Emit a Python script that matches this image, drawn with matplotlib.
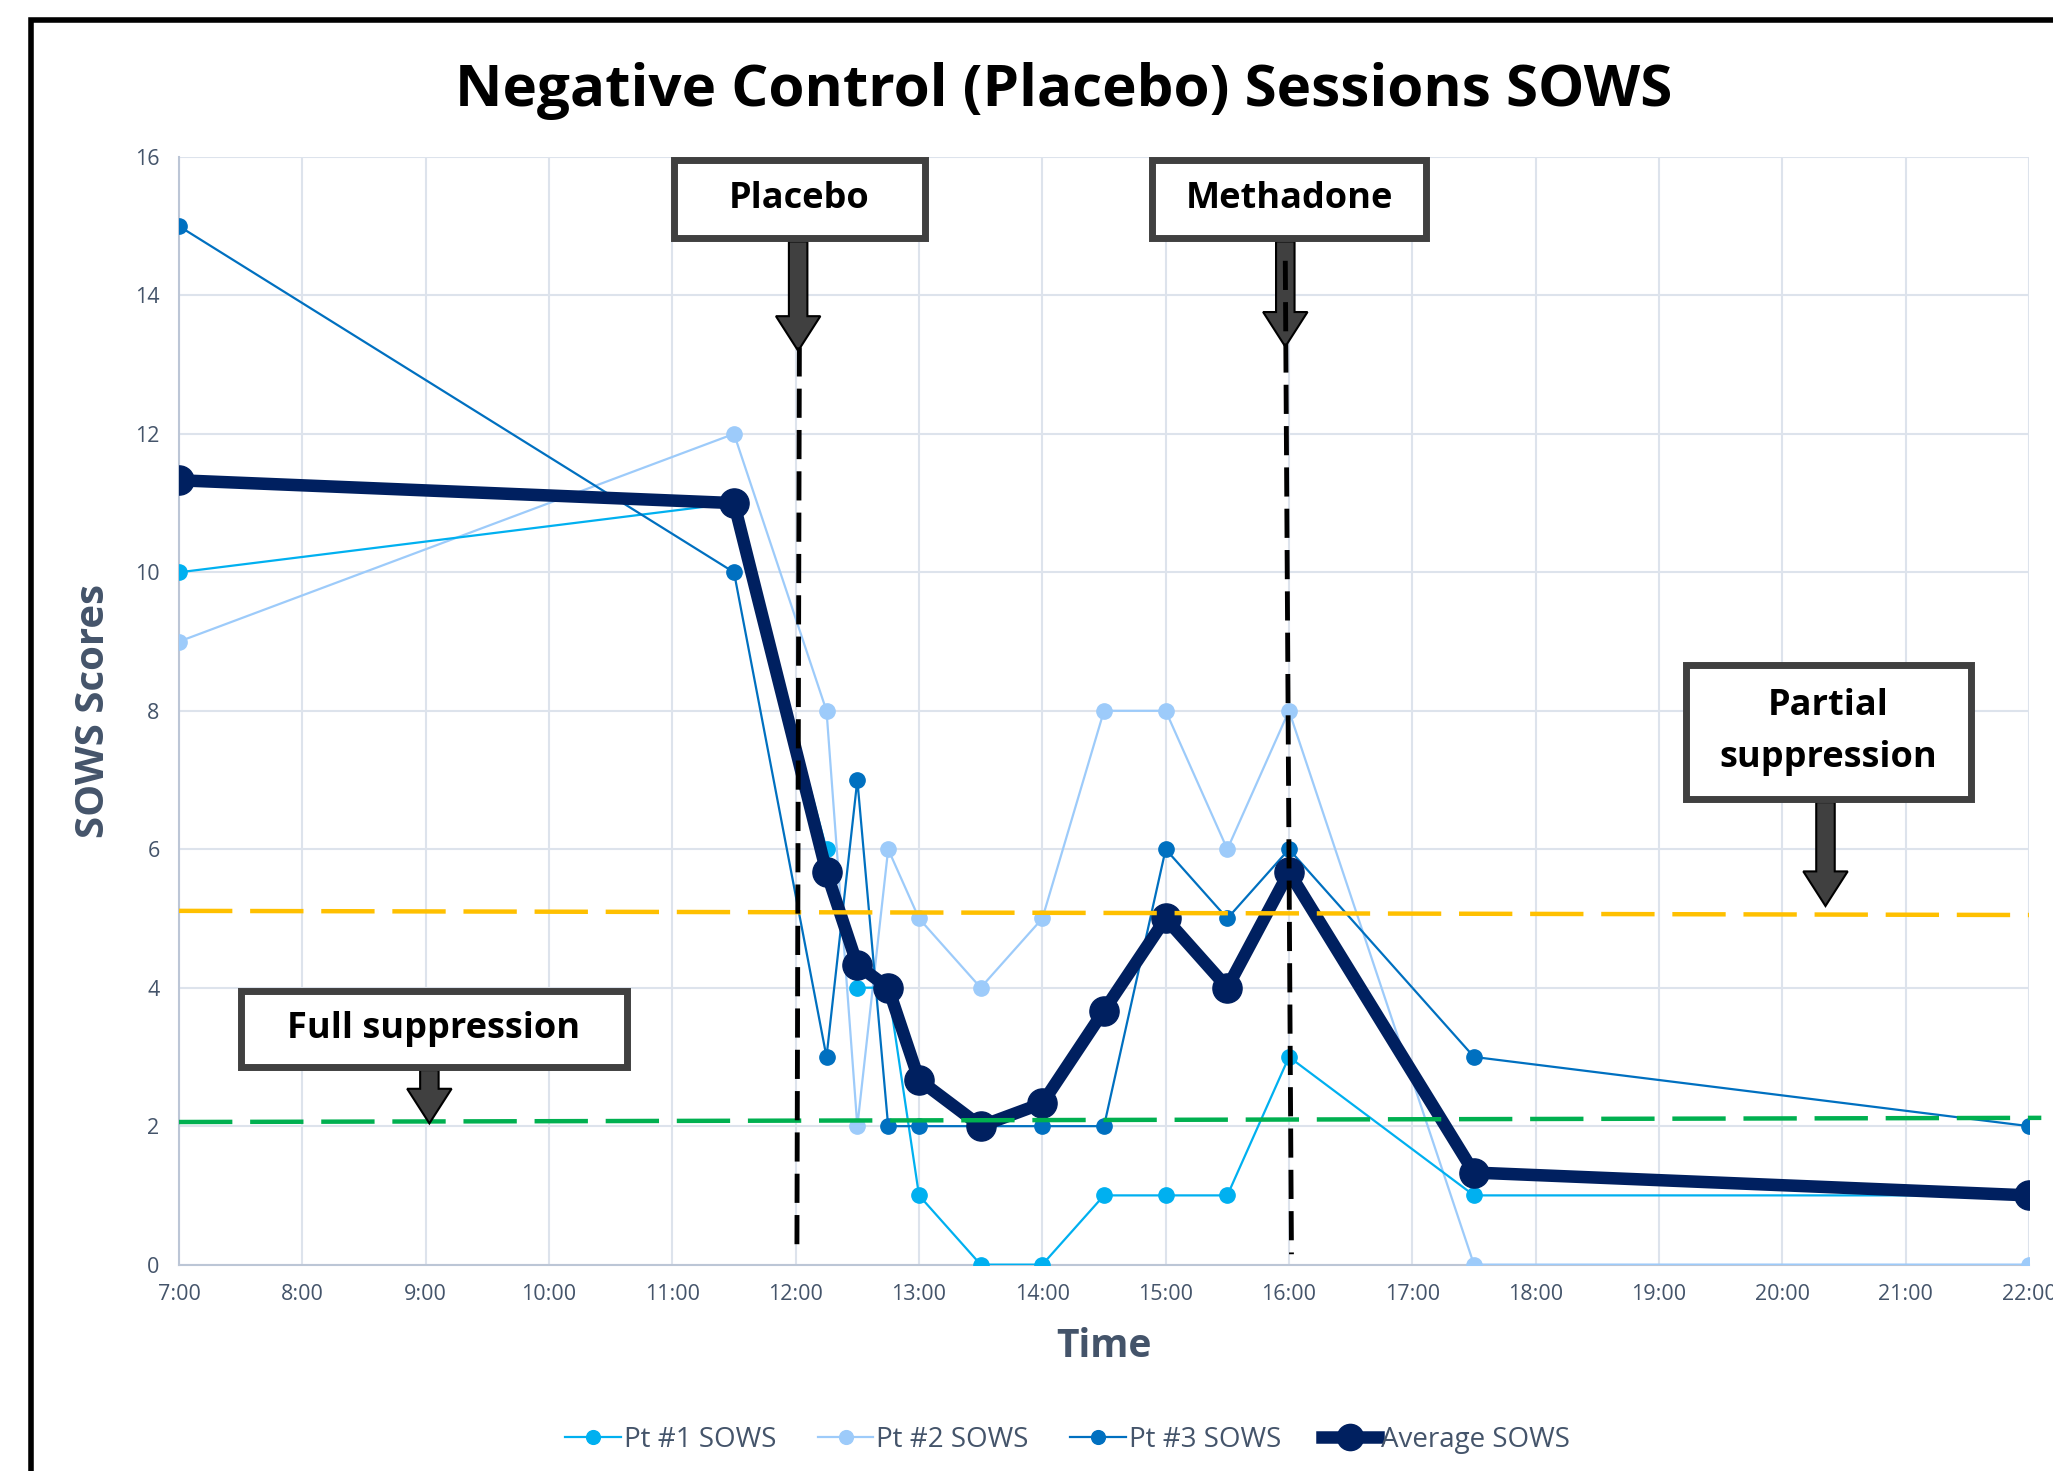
import numpy as np
import matplotlib
matplotlib.use("Agg")
import matplotlib.pyplot as plt
from matplotlib.patches import Rectangle, FancyArrow

plt.rcParams['font.family'] = ['Open Sans', 'DejaVu Sans']

# time of day in hours
hours = [7, 11.5, 12.25, 12.5, 12.75, 13, 13.5, 14, 14.5, 15, 15.5, 16, 17.5, 22]
pt1 = [10, 11, 6, 4, 4, 1, 0, 0, 1, 1, 1, 3, 1, 1]
pt2 = [9, 12, 8, 2, 6, 5, 4, 5, 8, 8, 6, 8, 0, 0]
pt3 = [15, 10, 3, 7, 2, 2, 2, 2, 2, 6, 5, 6, 3, 2]
avg = [11.33, 11, 5.67, 4.33, 4, 2.67, 2, 2.33, 3.67, 5, 4, 5.67, 1.33, 1]

hour_ticks = list(range(7, 23))
hour_labels = ["%d:00" % h for h in hour_ticks]
y_ticks = list(range(0, 17, 2))

# threshold lines (hand-drawn in the original, slightly tilted)
partial_x, partial_y = [7, 22], [5.11, 5.05]
full_x, full_y = [7, 22.1], [2.06, 2.12]

# event markers: (label, box x0, x1, y0, y1, arrow x, arrow tip y, line x top, line x bottom, line top)
events = [
    ("Placebo", 11.01, 13.05, 14.83, 15.96, 12.02, 13.2, 12.03, 12.01, 13.25),
    ("Methadone", 14.89, 17.11, 14.83, 15.96, 15.97, 13.26, 15.97, 16.02, 14.5),
]
notes = [
    ("Partial\nsuppression", 19.22, 21.53, 6.73, 8.66, 20.35, 5.18),
    ("Full suppression", 7.50, 10.63, 2.86, 3.95, 9.03, 2.04),
]

c1, c2, c3, cav = "#00B0F0", "#9DCBFA", "#0070C0", "#002060"
txt = "#44546A"

fig = plt.figure(figsize=(20.53, 14.71), dpi=100)
ax = fig.add_axes([0.0872, 0.1403, 0.9011, 0.753])

ax.plot(hours, pt1, color=c1, lw=1.6, marker='o', ms=11, label="Pt #1 SOWS", zorder=4)
ax.plot(hours, pt2, color=c2, lw=1.6, marker='o', ms=11, label="Pt #2 SOWS", zorder=3)
ax.plot(hours, pt3, color=c3, lw=1.6, marker='o', ms=11, label="Pt #3 SOWS", zorder=5)
ax.plot(hours, avg, color=cav, lw=9, marker='o', ms=21, label="Average SOWS", zorder=6)

ax.plot(partial_x, partial_y, color="#FFC000", lw=3.2, dashes=(12, 4), zorder=7, clip_on=False)
ax.plot(full_x, full_y, color="#00B050", lw=3.2, dashes=(12, 4), zorder=7, clip_on=False)

ax.set_xlim(7, 22)
ax.set_ylim(0, 16)
ax.set_xticks(hour_ticks)
ax.set_xticklabels(hour_labels)
ax.set_yticks(y_ticks)
ax.grid(True, color="#DDE3EC", lw=1.5)
ax.set_axisbelow(True)
ax.tick_params(length=0, labelsize=15.5, labelcolor=txt, pad=14)
for s in ["top", "right"]:
    ax.spines[s].set_visible(False)
for s in ["left", "bottom"]:
    ax.spines[s].set_color("#BCC6D6")
    ax.spines[s].set_linewidth(1.5)

ax.set_xlabel("Time", fontsize=28, fontweight='bold', color=txt, labelpad=16)
ax.set_ylabel("SOWS Scores", fontsize=29, fontweight='bold', color=txt, labelpad=16)

def box_arrow(label, x0, x1, y0, y1, ax_x, tip, fs):
    ax.add_patch(Rectangle((x0, y0), x1 - x0, y1 - y0, facecolor='white',
                           edgecolor='#404040', lw=5, zorder=10, clip_on=False))
    ax.text((x0 + x1) / 2, (y0 + y1) / 2, label, ha='center', va='center',
            fontsize=fs, fontweight='bold', color='black', zorder=11,
            linespacing=1.6)
    ax.add_patch(FancyArrow(ax_x, y0 - 0.05, 0, tip - y0 + 0.05, width=0.15,
                            head_width=0.36, head_length=0.5,
                            length_includes_head=True, facecolor='#404040',
                            edgecolor='black', lw=1.5, zorder=8))

for label, x0, x1, y0, y1, axx, tip, lxt, lxb, ltop in events:
    ax.plot([lxt, lxb], [ltop, 0.15], color='black', lw=3.5, dashes=(6, 2.5), zorder=9)
    box_arrow(label, x0, x1, y0, y1, axx, tip, 26)

for label, x0, x1, y0, y1, axx, tip in notes:
    box_arrow(label, x0, x1, y0, y1, axx, tip, 26)

fig.text(0.518, 0.938, "Negative Control (Placebo) Sessions SOWS", ha='center', va='center',
         fontsize=42, fontweight='bold', color='black')

leg = fig.legend(loc='center', bbox_to_anchor=(0.52, 0.021), ncol=4, frameon=False,
                 fontsize=20, handlelength=2.0, columnspacing=1.5, handletextpad=0.1,
                 labelcolor=txt, markerscale=0.9)

# outer frame (cut at right and bottom)
fig.patches.append(Rectangle((31 / 2053, -0.1), 1.2, 1 - 20 / 1471 + 0.1,
                             transform=fig.transFigure, fill=False,
                             edgecolor='black', lw=4))

fig.savefig("out.png", dpi=100)
